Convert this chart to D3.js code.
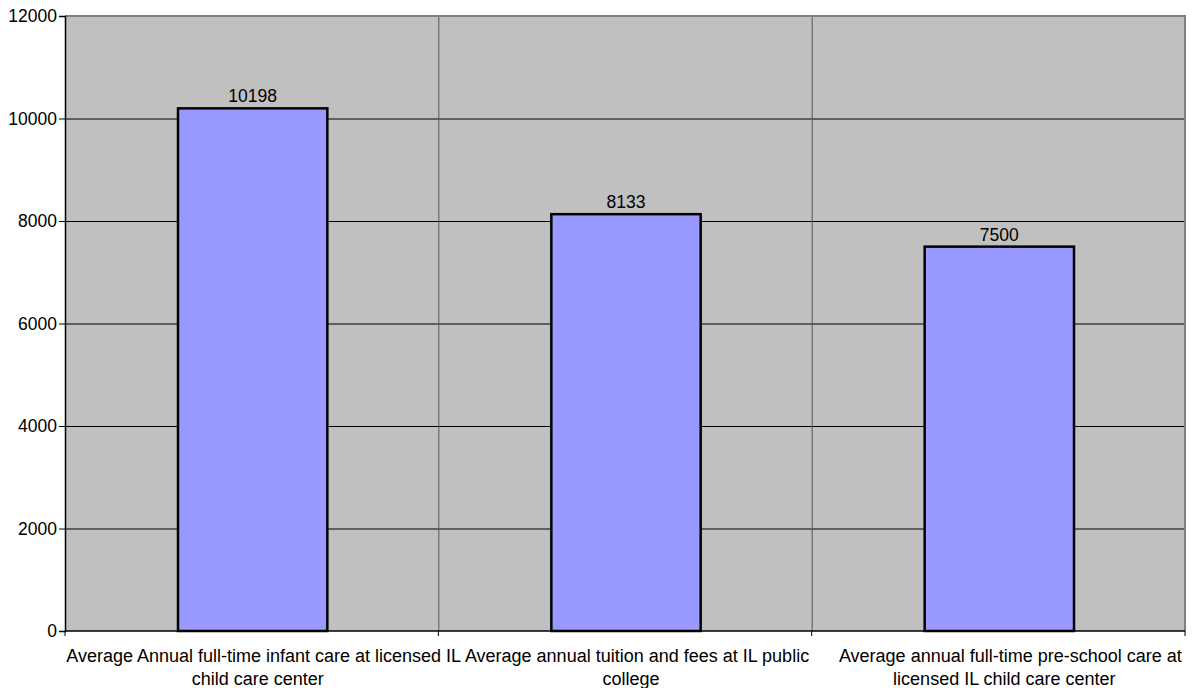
<!DOCTYPE html>
<html>
<head>
<meta charset="utf-8">
<script src="https://cdn.jsdelivr.net/npm/d3@7"></script>
<style>
  body { margin: 0; background: #fff; }
  svg text { font-family: "Liberation Sans", Arial, sans-serif; fill: #000; }
</style>
</head>
<body>
<div id="chart"></div>
<script>
// données du graphique
const categories = [
    ["Average Annual full-time infant care at licensed IL", "child care center"],
    ["Average annual tuition and fees at IL public", "college"],
    ["Average annual full-time pre-school care at", "licensed IL child care center"]
];
const values = [10198, 8133, 7500];
const yTicks = [0, 2000, 4000, 6000, 8000, 10000, 12000];

const width = 1195, height = 688;
const margin = { top: 16, right: 10, bottom: 57, left: 65 };
const fontSize = "17.5px";

const svg = d3.select("#chart").append("svg")
    .attr("width", width)
    .attr("height", height);

const x = d3.scaleBand()
    .domain(d3.range(categories.length))
    .range([margin.left, width - margin.right])
    .paddingInner(0)
    .paddingOuter(0);

const y = d3.scaleLinear()
    .domain([0, 12000])
    .range([height - margin.bottom, margin.top]);

// fond gris de la zone de tracé
svg.append("rect")
    .attr("x", margin.left)
    .attr("y", margin.top)
    .attr("width", width - margin.left - margin.right)
    .attr("height", height - margin.top - margin.bottom)
    .attr("fill", "#c0c0c0");

// grille horizontale
svg.append("g")
    .selectAll("line")
    .data(yTicks.filter(d => d > 0 && d < 12000))
    .enter().append("line")
    .attr("x1", margin.left)
    .attr("x2", width - margin.right)
    .attr("y1", d => y(d) + 0.5)
    .attr("y2", d => y(d) + 0.5)
    .attr("stroke", "#000")
    .attr("stroke-width", 1);

// grille verticale entre catégories
svg.append("g")
    .selectAll("line")
    .data(d3.range(1, categories.length))
    .enter().append("line")
    .attr("x1", d => x(d) + 0.5)
    .attr("x2", d => x(d) + 0.5)
    .attr("y1", margin.top)
    .attr("y2", height - margin.bottom)
    .attr("stroke", "#555")
    .attr("stroke-width", 1);

// bordure haut / droite
svg.append("path")
    .attr("d", `M${margin.left},${margin.top}H${width - margin.right}V${height - margin.bottom}`)
    .attr("fill", "none")
    .attr("stroke", "#808080")
    .attr("stroke-width", 2);

// barres
const barW = x.bandwidth() * 0.4;
svg.append("g")
    .selectAll("rect")
    .data(values)
    .enter().append("rect")
    .attr("x", (d, i) => x(i) + (x.bandwidth() - barW) / 2 + 1)
    .attr("y", d => y(d))
    .attr("width", barW)
    .attr("height", d => y(0) - y(d))
    .attr("fill", "#9999ff")
    .attr("stroke", "#000")
    .attr("stroke-width", 2.5);

// étiquettes de valeur
svg.append("g")
    .selectAll("text")
    .data(values)
    .enter().append("text")
    .attr("x", (d, i) => x(i) + x.bandwidth() / 2 + 1)
    .attr("y", d => y(d) - 6)
    .attr("text-anchor", "middle")
    .style("font-size", fontSize)
    .text(d => d);

// axe Y
const yAxis = svg.append("g")
    .attr("transform", `translate(${margin.left},0)`)
    .call(d3.axisLeft(y).tickValues(yTicks).tickSize(6).tickPadding(2).tickFormat(d3.format("d")));
yAxis.select(".domain").attr("stroke", "#000").attr("stroke-width", 1.5);
yAxis.selectAll(".tick line").attr("stroke", "#000");
yAxis.selectAll(".tick text")
    .style("font-size", fontSize)
    .style("font-family", "'Liberation Sans', Arial, sans-serif");

// axe X
const xAxis = svg.append("g")
    .attr("transform", `translate(0,${height - margin.bottom})`);
xAxis.append("line")
    .attr("x1", margin.left)
    .attr("x2", width - margin.right)
    .attr("stroke", "#000")
    .attr("stroke-width", 1.5);
xAxis.selectAll(".xtick")
    .data(d3.range(categories.length + 1))
    .enter().append("line")
    .attr("x1", d => d < categories.length ? x(d) : x.range()[1])
    .attr("x2", d => d < categories.length ? x(d) : x.range()[1])
    .attr("y1", 0)
    .attr("y2", 5)
    .attr("stroke", "#000");

// libellés de catégories sur deux lignes
const labels = xAxis.selectAll(".xlabel")
    .data(categories)
    .enter().append("text")
    .attr("text-anchor", "middle")
    .style("font-size", "18px")
    .attr("transform", (d, i) => `translate(${x(i) + x.bandwidth() / 2},0)`);
labels.selectAll("tspan")
    .data(d => d)
    .enter().append("tspan")
    .attr("x", (d, j) => j === 0 ? 12 : 6)
    .attr("y", (d, j) => 31 + j * 23)
    .text(d => d);
</script>
</body>
</html>
